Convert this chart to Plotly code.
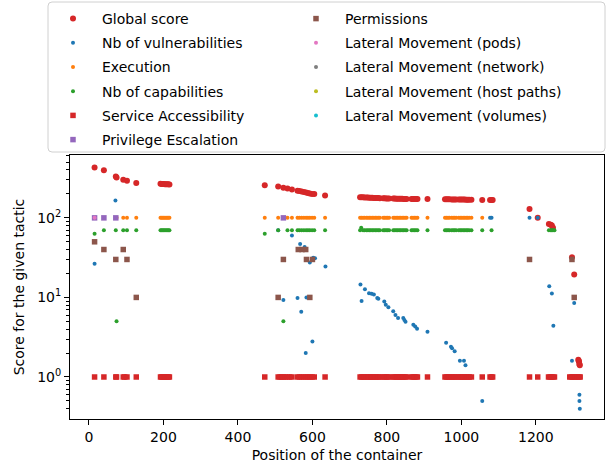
import plotly.graph_objects as go

# ---------------- data ----------------
global_x = [15, 40, 72, 74, 92, 102, 127,
            192, 195, 198, 201, 204, 207, 210, 213, 216,
            472, 508, 522, 533, 545, 560, 565, 571, 577, 583, 588, 593, 599, 605, 634,
            728, 732, 736, 740, 745, 749, 753, 757, 761, 765, 769, 773, 777, 781,
            790, 794, 798, 802, 806,
            817, 821, 825, 829, 833, 837, 841, 845, 849, 853,
            866, 870, 874, 878, 882, 909,
            956, 960, 964, 968, 974, 978, 982, 986, 993, 997, 1001, 1005, 1009, 1013, 1017, 1021, 1027,
            1056, 1077, 1081, 1084,
            1183, 1205, 1235, 1240, 1243, 1246, 1297, 1303, 1314, 1315, 1316, 1317, 1318]
global_y = [428, 398, 330, 322, 302, 293, 274,
            268, 267, 266, 266, 265, 265, 264, 264, 263,
            257, 247, 239, 234, 227, 219, 217, 215, 211, 208, 205, 202, 200, 199, 191,
            182, 181, 181, 180, 180, 180, 179, 179, 179, 178, 178, 178, 178, 177,
            176, 176, 175, 175, 175,
            175, 175, 174, 174, 174, 174, 174, 173, 173, 173,
            173, 173, 172, 172, 172, 172,
            171, 171, 171, 171, 170, 170, 170, 170, 170, 170, 170, 170, 170, 169, 169, 169, 169,
            168, 168, 168, 168,
            129, 100, 84, 82, 80, 75, 32, 19.4, 1.65, 1.6, 1.55, 1.45, 1.4]

vuln_x = [15, 71, 508, 545, 567, 579, 602, 607, 593, 635, 522, 560, 584, 570, 600, 582,
          729, 741, 752, 759, 765, 774, 777, 732, 793, 797, 804, 817, 823, 830, 844, 847, 850,
          871, 876, 881, 909, 959, 972, 975, 982, 996, 1007, 1011, 1056, 1077, 1081,
          1183, 1205, 1236, 1243, 1247, 1297, 1303, 1317, 1317, 1318]
vuln_y = [26.5, 165, 70, 60, 47, 43, 31.5, 31, 27.4, 24.5, 9.3, 9.8, 10, 6.6, 2.8, 2.0,
          14.5, 12.7, 11.3, 11.1, 10.9, 9.8, 9.6, 9.0, 8.9, 8.1, 7.5, 6.7, 6.0, 5.5, 5.5, 5.2, 4.95,
          4.55, 4.3, 4.05, 3.7, 2.7, 2.4, 2.3, 2.1, 1.6, 1.6, 1.4, 0.5, 100, 100,
          100, 100, 13.8, 11.2, 4.4, 1.6, 8.5, 0.6, 0.5, 0.4]

exec_x = [74, 92, 102, 127,
          192, 195, 198, 201, 204, 207, 210, 213, 216,
          472, 508, 533, 545, 560, 565, 571, 577, 583, 588, 593, 599, 605, 634,
          728, 732, 736, 740, 745, 749, 753, 757, 761, 765, 769, 773, 777, 781,
          790, 794, 798, 802, 806,
          817, 821, 825, 829, 833, 837, 841, 845, 849, 853,
          866, 870, 874, 878, 882, 909,
          956, 960, 964, 968, 974, 978, 982, 986, 993, 997, 1001, 1005, 1009, 1013, 1017, 1021, 1027,
          1056]
exec_y = [100, 100, 100, 100,
          100, 100, 100, 100, 100, 100, 100, 100, 100,
          100, 100, 100, 100, 100, 100, 100, 100, 100, 100, 100, 100, 100, 100,
          100, 100, 100, 100, 100, 100, 100, 100, 100, 100, 100, 100, 100, 100,
          100, 100, 100, 100, 100,
          100, 100, 100, 100, 100, 100, 100, 100, 100, 100,
          100, 100, 100, 100, 100, 100,
          100, 100, 100, 100, 100, 100, 100, 100, 100, 100, 100, 100, 100, 100, 100, 100, 100,
          100]

cap_x = [15, 40, 72, 92, 102, 127, 74,
         192, 195, 198, 201, 204, 207, 210, 213, 216,
         472, 508, 522, 533, 545, 560, 565, 571, 577, 583, 588, 593, 599, 605, 634,
         728, 731, 736, 740, 745, 749, 753, 757, 761, 765, 769, 773, 777, 781,
         790, 794, 798, 802, 806,
         817, 821, 825, 829, 833, 837, 841, 845, 849, 853,
         866, 870, 874, 878, 882, 909,
         956, 960, 964, 968, 974, 978, 982, 986, 993, 997, 1001, 1005, 1009, 1013, 1017, 1021, 1027,
         1056, 1081, 1235, 1240, 1243, 1246, 1250]
cap_y = [63, 70, 70, 70, 70, 70, 5,
         70, 70, 70, 70, 70, 70, 70, 70, 70,
         63, 70, 5, 70, 70, 70, 70, 70, 70, 70, 70, 70, 70, 70, 70,
         70, 75, 70, 70, 70, 70, 70, 70, 70, 70, 70, 70, 70, 70,
         70, 70, 70, 70, 70,
         70, 70, 70, 70, 70, 70, 70, 70, 70, 70,
         70, 70, 70, 70, 70, 70,
         70, 70, 70, 70, 70, 70, 70, 70, 70, 70, 70, 70, 70, 70, 70, 70, 70,
         70, 70, 70, 70, 70, 70, 70]

service_x = [15, 40, 72, 74, 92, 96, 102, 127,
             192, 195, 198, 201, 204, 207, 210, 213, 216,
             472, 508, 513, 518, 522, 527, 533, 539, 545, 560, 565, 571, 577, 583, 588, 593, 599, 605, 634,
             728, 732, 736, 740, 745, 749, 753, 757, 761, 765, 769, 773, 777, 781,
             790, 794, 798, 802, 806,
             817, 821, 825, 829, 833, 837, 841, 845, 849, 853,
             866, 870, 874, 878, 882, 909,
             956, 960, 964, 968, 974, 978, 982, 986, 993, 997, 1001, 1005, 1009, 1013, 1017, 1021, 1027,
             1056, 1077, 1081, 1084,
             1183, 1205, 1234, 1238, 1242, 1246, 1250, 1291, 1295, 1299, 1303, 1306, 1312, 1316, 1319]
service_y = [1, 1, 1, 1, 1, 1, 1, 1,
             1, 1, 1, 1, 1, 1, 1, 1, 1,
             1, 1, 1, 1, 1, 1, 1, 1, 1, 1, 1, 1, 1, 1, 1, 1, 1, 1, 1,
             1, 1, 1, 1, 1, 1, 1, 1, 1, 1, 1, 1, 1, 1,
             1, 1, 1, 1, 1,
             1, 1, 1, 1, 1, 1, 1, 1, 1, 1,
             1, 1, 1, 1, 1, 1,
             1, 1, 1, 1, 1, 1, 1, 1, 1, 1, 1, 1, 1, 1, 1, 1, 1,
             1, 1, 1, 1,
             1, 1, 1, 1, 1, 1, 1, 1, 1, 1, 1, 1, 1, 1, 1]

priv_x = [15, 40, 72, 522]
priv_y = [100, 100, 100, 100]

perm_x = [15, 40, 92, 72, 102, 127, 562, 572, 582, 522, 584, 600, 508, 593, 1183, 1297, 1303]
perm_y = [50, 40, 40, 30, 30, 10, 40, 40, 40, 30, 30, 30, 10, 10, 30, 30, 10]

# zero scores cannot be shown on the log axis
lm_pods_x, lm_pods_y = [15], [100]
lm_net_x, lm_net_y = [15], [0]
lm_host_x, lm_host_y = [15], [0]
lm_vol_x, lm_vol_y = [15], [0]

# ---------------- figure ----------------
# name, x, y, colour, symbol, size, legend column
series = [
    ("Global score", global_x, global_y, "#d62728", "circle", 6, "legend"),
    ("Nb of vulnerabilities", vuln_x, vuln_y, "#1f77b4", "circle", 4, "legend"),
    ("Execution", exec_x, exec_y, "#ff7f0e", "circle", 4, "legend"),
    ("Nb of capabilities", cap_x, cap_y, "#2ca02c", "circle", 4, "legend"),
    ("Service Accessibility", service_x, service_y, "#d62728", "square", 5.5, "legend"),
    ("Privilege Escalation", priv_x, priv_y, "#9467bd", "square", 5.5, "legend"),
    ("Permissions", perm_x, perm_y, "#8c564b", "square", 5.5, "legend2"),
    ("Lateral Movement (pods)", lm_pods_x, lm_pods_y, "#e377c2", "circle", 4, "legend2"),
    ("Lateral Movement (network)", lm_net_x, lm_net_y, "#7f7f7f", "circle", 4, "legend2"),
    ("Lateral Movement (host paths)", lm_host_x, lm_host_y, "#bcbd22", "circle", 4, "legend2"),
    ("Lateral Movement (volumes)", lm_vol_x, lm_vol_y, "#17becf", "circle", 4, "legend2"),
]

fig = go.Figure()
for i, (name, xs, ys, col, sym, size, leg) in enumerate(series):
    fig.add_trace(go.Scatter(
        x=xs, y=ys, mode="markers", name=name, legend=leg, legendgroup="g%d" % i,
        marker=dict(color=col, symbol=sym, size=size, line=dict(width=0)),
    ))

W, H = 611, 470
ML, MR, MT, MB = 70, 7, 155, 51
PW, PH = W - ML - MR, H - MT - MB


def px2paper_x(px):
    return (px - ML) / PW


def px2paper_y(py):
    return (H - MB - py) / PH


# rounded legend frame (pixel corners -> paper coords)
fx0, fx1, fy0, fy1, rad = 48, 605, 2, 152, 4
frame_path = (
    "M {a},{b} L {c},{b} Q {d},{b} {d},{e} L {d},{f} Q {d},{g} {c},{g} "
    "L {a},{g} Q {h},{g} {h},{f} L {h},{e} Q {h},{b} {a},{b} Z"
).format(
    a=px2paper_x(fx0 + rad), b=px2paper_y(fy0), c=px2paper_x(fx1 - rad), d=px2paper_x(fx1),
    e=px2paper_y(fy0 + rad), f=px2paper_y(fy1 - rad), g=px2paper_y(fy1), h=px2paper_x(fx0),
)

font = dict(family="DejaVu Sans", size=14, color="black")
legfont = dict(family="DejaVu Sans", size=14, color="black")
common_leg = dict(orientation="v", xanchor="left", yanchor="top",
                  borderwidth=0, bgcolor="rgba(0,0,0,0)", font=legfont,
                  itemwidth=48, tracegroupgap=3, itemclick=False, itemdoubleclick=False)
fig.update_layout(
    width=W, height=H,
    margin=dict(l=ML, r=MR, t=MT, b=MB, autoexpand=False),
    paper_bgcolor="white", plot_bgcolor="white",
    font=font,
    showlegend=True,
    legend=dict(x=px2paper_x(44), y=px2paper_y(3), **common_leg),
    legend2=dict(x=px2paper_x(287), y=px2paper_y(3), **common_leg),
    shapes=[dict(type="path", xref="paper", yref="paper", path=frame_path,
                 line=dict(color="#d0d0d0", width=1), layer="below")],
)
fig.update_xaxes(
    range=[-51, 1383], tickvals=[0, 200, 400, 600, 800, 1000, 1200],
    showgrid=False, zeroline=False, showline=True, linecolor="black", linewidth=1,
    mirror=True, ticks="outside", ticklen=5, tickcolor="black",
    title=dict(text="Position of the container", font=font, standoff=6),
)
fig.update_yaxes(
    type="log", range=[-0.528, 2.79],
    tickvals=[1, 10, 100], ticktext=["10<sup>0</sup>", "10<sup>1</sup>", "10<sup>2</sup>"],
    showgrid=False, zeroline=False, showline=True, linecolor="black", linewidth=1,
    mirror=True, ticks="outside", ticklen=5, tickcolor="black",
    minor=dict(ticks="outside", ticklen=3, tickcolor="black", showgrid=False,
               tickvals=[0.4, 0.5, 0.6, 0.7, 0.8, 0.9, 2, 3, 4, 5, 6, 7, 8, 9,
                         20, 30, 40, 50, 60, 70, 80, 90, 200, 300, 400, 500, 600]),
    title=dict(text="Score for the given tactic", font=font, standoff=9),
)
fig.write_html("out.html", config={"displayModeBar": False},
               post_script="document.body.style.margin='0';")
